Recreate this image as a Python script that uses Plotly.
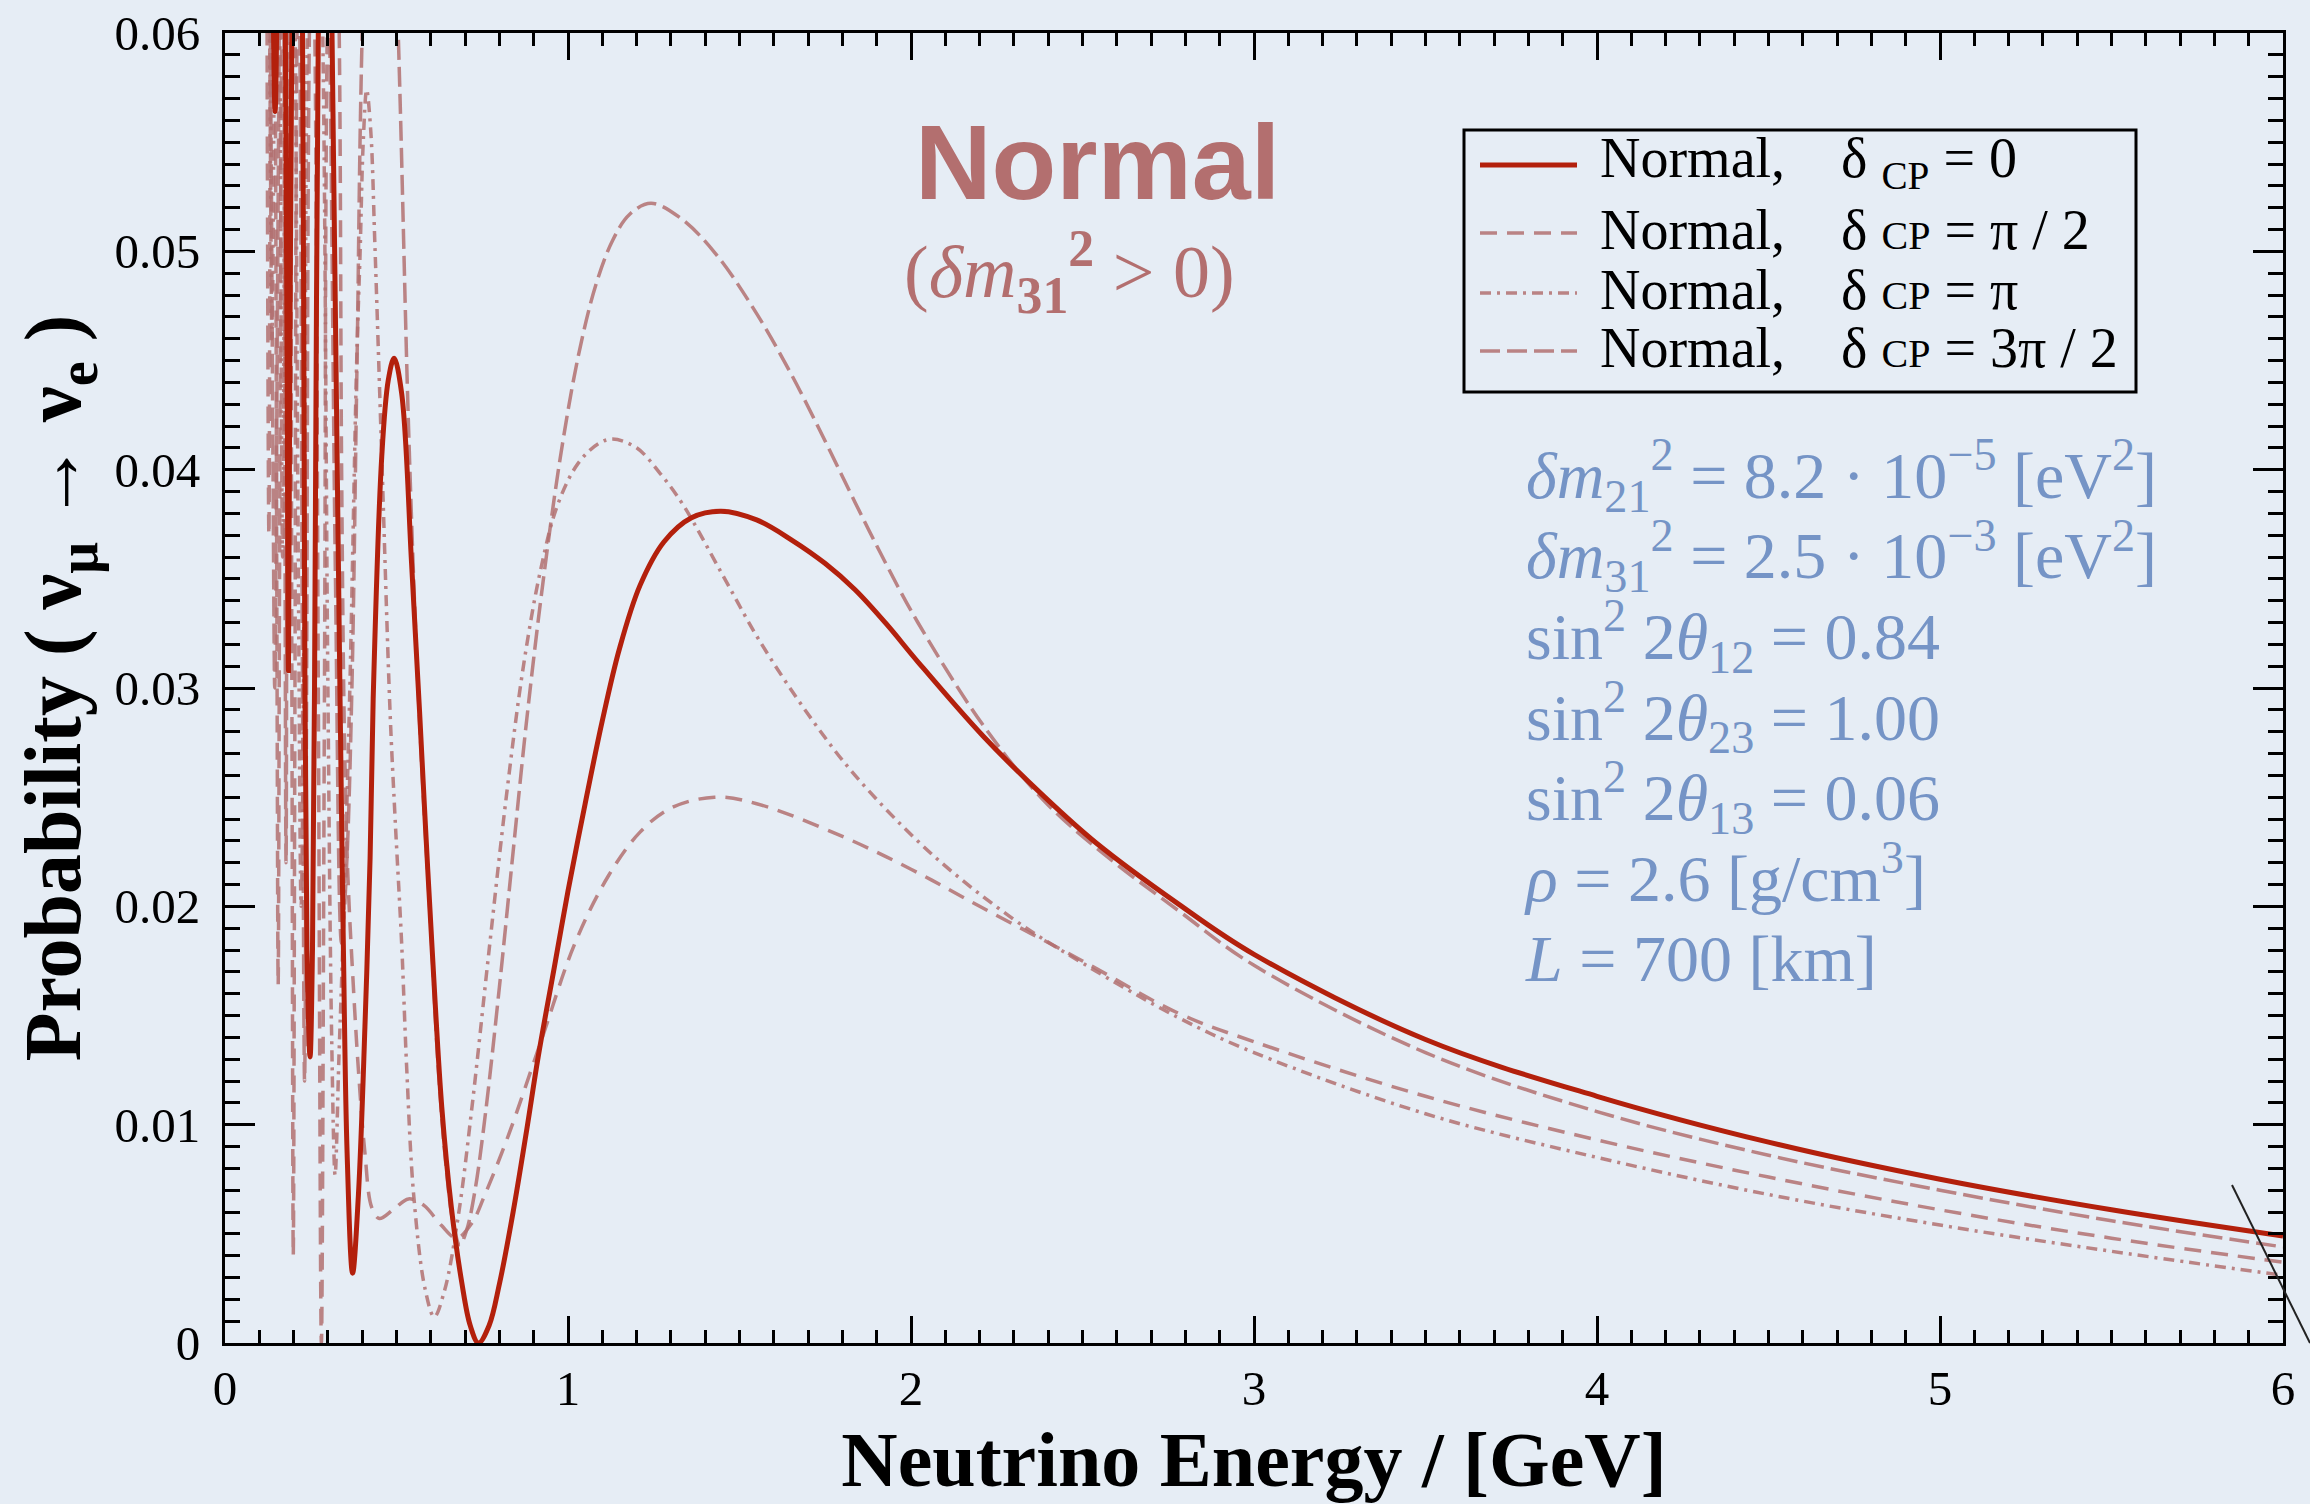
import plotly.graph_objects as go

# ---------------------------------------------------------------
# nu_mu -> nu_e appearance probability vs. neutrino energy,
# normal hierarchy, four values of the CP phase (L = 700 km)
# ---------------------------------------------------------------

# delta_CP = 0
E_cp0 = [0.128, 0.140, 0.146, 0.152, 0.163, 0.176, 0.181, 0.185, 0.189, 0.195,
         0.210, 0.226, 0.233, 0.239, 0.248, 0.255, 0.261, 0.272, 0.292, 0.312,
         0.335, 0.345, 0.356, 0.372, 0.389, 0.408, 0.423, 0.432, 0.457, 0.476,
         0.493, 0.515, 0.544, 0.567, 0.585, 0.603, 0.632, 0.660, 0.690, 0.715,
         0.739, 0.770, 0.800, 0.840, 0.880, 0.913, 0.960, 1.000, 1.050, 1.100,
         1.150, 1.210, 1.280, 1.360, 1.446, 1.550, 1.650, 1.750, 1.837, 1.930,
         2.020, 2.210, 2.390, 2.540, 2.780, 3.000, 3.500, 4.000, 4.500, 5.000,
         5.500, 6.000]
P_cp0 = [0.0850, 0.0620, 0.0564, 0.0620, 0.0850, 0.0600, 0.0450, 0.0308, 0.0450, 0.0600,
         0.0900, 0.0600, 0.0300, 0.0180, 0.0131, 0.0180, 0.0300, 0.0600, 0.0850, 0.0600,
         0.0300, 0.0183, 0.0087, 0.0032, 0.0068, 0.0145, 0.0222, 0.0295, 0.0406, 0.0441,
         0.0451, 0.0435, 0.0357, 0.0290, 0.0235, 0.0183, 0.0108, 0.0062, 0.0028, 0.0008,
         0.0000, 0.0008, 0.0027, 0.0060, 0.0098, 0.0131, 0.0172, 0.0207, 0.0247, 0.0285,
         0.0318, 0.0347, 0.0367, 0.0378, 0.0381, 0.0377, 0.0368, 0.0357, 0.0345, 0.0329,
         0.0312, 0.0278, 0.0250, 0.0229, 0.0201, 0.0178, 0.0139, 0.0113, 0.0092, 0.0075,
         0.0061, 0.0049]

# delta_CP = pi/2
E_cp90 = [0.120, 0.128, 0.136, 0.146, 0.151, 0.155, 0.159, 0.165, 0.178, 0.190,
          0.195, 0.199, 0.204, 0.210, 0.235, 0.262, 0.272, 0.281, 0.290, 0.298,
          0.316, 0.333, 0.340, 0.348, 0.358, 0.374, 0.389, 0.408, 0.428, 0.450,
          0.490, 0.535, 0.580, 0.630, 0.675, 0.720, 0.758, 0.826, 0.923, 1.020,
          1.118, 1.210, 1.300, 1.427, 1.550, 1.800, 2.000, 2.200, 2.500, 2.780,
          3.000, 3.500, 4.000, 4.500, 5.000, 5.500, 6.000]
P_cp90 = [0.0800, 0.0370, 0.0800, 0.0600, 0.0350, 0.0164, 0.0350, 0.0600, 0.0850, 0.0600,
          0.0300, 0.0040, 0.0300, 0.0600, 0.0900, 0.0600, 0.0300, 0.0000, 0.0300, 0.0600,
          0.0750, 0.0600, 0.0400, 0.0280, 0.0215, 0.0164, 0.0125, 0.0087, 0.0062, 0.0057,
          0.0061, 0.0066, 0.0063, 0.0054, 0.0048, 0.0055, 0.0068, 0.0095, 0.0139, 0.0183,
          0.0214, 0.0234, 0.0245, 0.0250, 0.0247, 0.0232, 0.0217, 0.0200, 0.0175, 0.0151,
          0.0138, 0.0113, 0.0093, 0.0076, 0.0061, 0.0048, 0.0037]

# delta_CP = pi
E_cp180 = [0.122, 0.130, 0.137, 0.144, 0.152, 0.160, 0.168, 0.176, 0.190, 0.205,
           0.214, 0.222, 0.231, 0.240, 0.262, 0.285, 0.300, 0.311, 0.321, 0.332,
           0.345, 0.364, 0.384, 0.394, 0.403, 0.413, 0.425, 0.437, 0.457, 0.481,
           0.496, 0.515, 0.530, 0.550, 0.583, 0.610, 0.640, 0.680, 0.720, 0.770,
           0.820, 0.870, 0.920, 0.970, 1.030, 1.090, 1.130, 1.200, 1.270, 1.335,
           1.450, 1.557, 1.700, 1.837, 2.060, 2.300, 2.500, 2.780, 3.000, 3.500,
           4.000, 4.500, 5.000, 5.500, 6.000]
P_cp180 = [0.0700, 0.0600, 0.0460, 0.0600, 0.0780, 0.0600, 0.0360, 0.0600, 0.0850, 0.0600,
           0.0350, 0.0200, 0.0350, 0.0600, 0.0780, 0.0600, 0.0300, 0.0140, 0.0077, 0.0130,
           0.0190, 0.0300, 0.0450, 0.0500, 0.0550, 0.0574, 0.0555, 0.0503, 0.0406, 0.0290,
           0.0240, 0.0183, 0.0125, 0.0068, 0.0025, 0.0012, 0.0024, 0.0058, 0.0108, 0.0180,
           0.0250, 0.0310, 0.0354, 0.0384, 0.0403, 0.0412, 0.0414, 0.0410, 0.0398, 0.0384,
           0.0352, 0.0322, 0.0288, 0.0260, 0.0224, 0.0194, 0.0174, 0.0149, 0.0133, 0.0105,
           0.0085, 0.0068, 0.0054, 0.0042, 0.0031]

# delta_CP = 3pi/2
E_cp270 = [0.120, 0.132, 0.140, 0.145, 0.150, 0.158, 0.167, 0.172, 0.178, 0.184,
           0.200, 0.218, 0.226, 0.232, 0.238, 0.246, 0.275, 0.305, 0.322, 0.340,
           0.355, 0.370, 0.385, 0.400, 0.452, 0.505, 0.535, 0.560, 0.580, 0.600,
           0.622, 0.645, 0.665, 0.685, 0.705, 0.729, 0.760, 0.800, 0.840, 0.880,
           0.930, 0.980, 1.030, 1.080, 1.130, 1.180, 1.242, 1.330, 1.430, 1.540,
           1.650, 1.750, 1.837, 1.930, 2.020, 2.210, 2.390, 2.570, 2.780, 3.000,
           3.500, 4.000, 4.500, 5.000, 5.500, 6.000]
P_cp270 = [0.0750, 0.0600, 0.0400, 0.0300, 0.0400, 0.0600, 0.0800, 0.0600, 0.0220, 0.0600,
           0.0850, 0.0600, 0.0300, 0.0120, 0.0300, 0.0600, 0.0880, 0.0600, 0.0350, 0.0183,
           0.0220, 0.0300, 0.0450, 0.0600, 0.0850, 0.0600, 0.0420, 0.0310, 0.0245, 0.0190,
           0.0125, 0.0080, 0.0055, 0.0045, 0.0052, 0.0070, 0.0106, 0.0163, 0.0225, 0.0286,
           0.0352, 0.0408, 0.0452, 0.0484, 0.0505, 0.0517, 0.0522, 0.0515, 0.0499, 0.0474,
           0.0444, 0.0413, 0.0385, 0.0356, 0.0330, 0.0283, 0.0248, 0.0223, 0.0198, 0.0173,
           0.0133, 0.0106, 0.0086, 0.0070, 0.0056, 0.0044]

# axis ticks
x_major = [0, 1, 2, 3, 4, 5, 6]
x_labels = ["0", "1", "2", "3", "4", "5", "6"]
x_mid = [0.5, 1.5, 2.5, 3.5, 4.5, 5.5]
y_major = [0, 0.01, 0.02, 0.03, 0.04, 0.05, 0.06]
y_labels = ["0", "0.01", "0.02", "0.03", "0.04", "0.05", "0.06"]
y_mid = [0.005, 0.015, 0.025, 0.035, 0.045, 0.055]

# legend row labels
legend_labels = [
    "Normal,\u00a0\u00a0\u00a0 δ <sub>CP</sub> = 0",
    "Normal,\u00a0\u00a0\u00a0 δ <span style='font-size:40px'>CP</span> = π / 2",
    "Normal,\u00a0\u00a0\u00a0 δ <span style='font-size:40px'>CP</span> = π",
    "Normal,\u00a0\u00a0\u00a0 δ <span style='font-size:40px'>CP</span> = 3π / 2",
]

# oscillation parameters used for the curves
param_lines = [
    "<i>δm</i><sub>21</sub><sup>2</sup> = 8.2 · 10<sup>−5</sup> [eV<sup>2</sup>]",
    "<i>δm</i><sub>31</sub><sup>2</sup> = 2.5 · 10<sup>−3</sup> [eV<sup>2</sup>]",
    "sin<sup>2</sup> 2<i>θ</i><sub>12</sub> = 0.84",
    "sin<sup>2</sup> 2<i>θ</i><sub>23</sub> = 1.00",
    "sin<sup>2</sup> 2<i>θ</i><sub>13</sub> = 0.06",
    "<i>ρ</i> = 2.6 [g/cm<sup>3</sup>]",
    "<i>L</i> = 700 [km]",
]

RED = "#b3200c"
ROSE = "rgba(178,112,112,0.85)"
BLUE = "#7594c6"
BG = "#e6edf5"
SERIF = "Liberation Serif"
DASH_90 = "17px,10px"
DASH_180 = "11px,6px,3px,6px"
DASH_270 = "20px,7px"

series = [
    (E_cp90, P_cp90, "Normal, δCP = π/2", dict(color=ROSE, width=3.5, dash=DASH_90)),
    (E_cp180, P_cp180, "Normal, δCP = π", dict(color=ROSE, width=3.5, dash=DASH_180)),
    (E_cp270, P_cp270, "Normal, δCP = 3π/2", dict(color=ROSE, width=3.5, dash=DASH_270)),
    (E_cp0, P_cp0, "Normal, δCP = 0", dict(color=RED, width=5)),
]

fig = go.Figure()
for E, P, name, line in series:
    fig.add_trace(go.Scatter(x=E, y=P, mode="lines", name=name,
                             line=dict(shape="spline", smoothing=1.0, **line),
                             showlegend=False, hoverinfo="x+y"))

axis_common = dict(showgrid=False, zeroline=False, ticks="inside", tickcolor="black", tickwidth=3)
tick_font = dict(family=SERIF, size=49, color="black")

fig.update_layout(
    width=2310, height=1504,
    margin=dict(l=225, r=27, t=33, b=161, autoexpand=False),
    paper_bgcolor=BG, plot_bgcolor=BG,
    font=dict(family=SERIF, color="black"),
    xaxis=dict(range=[0, 6], showline=True, linecolor="black", linewidth=3, mirror="ticks",
               tickvals=x_major, ticktext=x_labels, ticklen=27, tickfont=tick_font, ticklabelstandoff=0,
               minor=dict(ticks="inside", dtick=0.1, tick0=0, ticklen=13, tickwidth=3,
                          tickcolor="black", showgrid=False),
               title=dict(text="<b>Neutrino Energy / [GeV]</b>",
                          font=dict(family=SERIF, size=78, color="black"), standoff=10),
               automargin=False, **axis_common),
    xaxis2=dict(range=[0, 6], overlaying="x", anchor="y", side="bottom", showline=False, mirror="ticks",
                tickvals=x_mid, ticklen=20, showticklabels=False, automargin=False, **axis_common),
    yaxis=dict(range=[0, 0.06], showline=True, linecolor="black", linewidth=3, mirror="ticks",
               tickvals=y_major, ticktext=y_labels, ticklen=30, tickfont=tick_font, ticklabelstandoff=12,
               minor=dict(ticks="inside", dtick=0.001, tick0=0, ticklen=15, tickwidth=3,
                          tickcolor="black", showgrid=False),
               title=dict(text="<b>Probability ( ν<sub>μ</sub> → ν<sub>e</sub> )</b>",
                          font=dict(family=SERIF, size=80, color="black"), standoff=8),
               automargin=False, **axis_common),
    yaxis2=dict(range=[0, 0.06], overlaying="y", anchor="x", side="left", showline=False, mirror="ticks",
                tickvals=y_mid, ticklen=23, showticklabels=False, automargin=False, **axis_common),
)

# pixel -> paper helpers for the decorations
PW, PH, L0, B0 = 2058.0, 1310.0, 225.0, 1343.0


def px(x):
    return (x - L0) / PW


def py(y):
    return (B0 - y) / PH


annotations = []
# hierarchy heading
annotations.append(dict(x=px(1097), y=py(162), xref="paper", yref="paper", xanchor="center", yanchor="middle",
                        text="<b>Normal</b>", showarrow=False,
                        font=dict(family="Liberation Sans", size=106, color="#b36f6f")))
annotations.append(dict(x=px(1069), y=py(272), xref="paper", yref="paper", xanchor="center", yanchor="middle",
                        text="(<i>δm</i><sub><b>31</b></sub><sup><b>2</b></sup> > 0)", showarrow=False,
                        font=dict(family=SERIF, size=74, color="#b36f6f")))
# oscillation parameters (line pitch from the 62px base size, glyphs at 66px)
param_text = "<br>".join("<span style='font-size:66px'>" + s + "</span>" for s in param_lines)
annotations.append(dict(x=px(1522), y=py(712), xref="paper", yref="paper", xanchor="left", yanchor="middle",
                        align="left", text=param_text, showarrow=False,
                        font=dict(family=SERIF, size=62, color=BLUE)))

# legend box, samples and labels
shapes = [dict(type="rect", xref="paper", yref="paper", x0=px(1464), x1=px(2136), y0=py(392), y1=py(130),
               line=dict(color="black", width=3), fillcolor="rgba(0,0,0,0)", layer="above")]
row_y = [165, 233, 293, 351]
sample_style = [
    dict(color=RED, width=5),
    dict(color=ROSE, width=3.5, dash=DASH_90),
    dict(color=ROSE, width=3.5, dash=DASH_180),
    dict(color=ROSE, width=3.5, dash=DASH_270),
]
for yy, lbl, st in zip(row_y, legend_labels, sample_style):
    shapes.append(dict(type="line", xref="paper", yref="paper", x0=px(1480), x1=px(1577), y0=py(yy), y1=py(yy),
                       line=st, layer="above"))
    annotations.append(dict(x=px(1598), y=py(yy - 3), xref="paper", yref="paper", xanchor="left", yanchor="middle",
                            text=lbl, showarrow=False, font=dict(family=SERIF, size=56, color="black")))

# thin stray stroke crossing the lower-right corner
shapes.append(dict(type="line", xref="paper", yref="paper", x0=px(2232), y0=py(1185), x1=px(2310), y1=py(1343),
                   line=dict(color="#222222", width=2), layer="above"))

fig.update_layout(annotations=annotations, shapes=shapes)

fig.write_html("out.html")
